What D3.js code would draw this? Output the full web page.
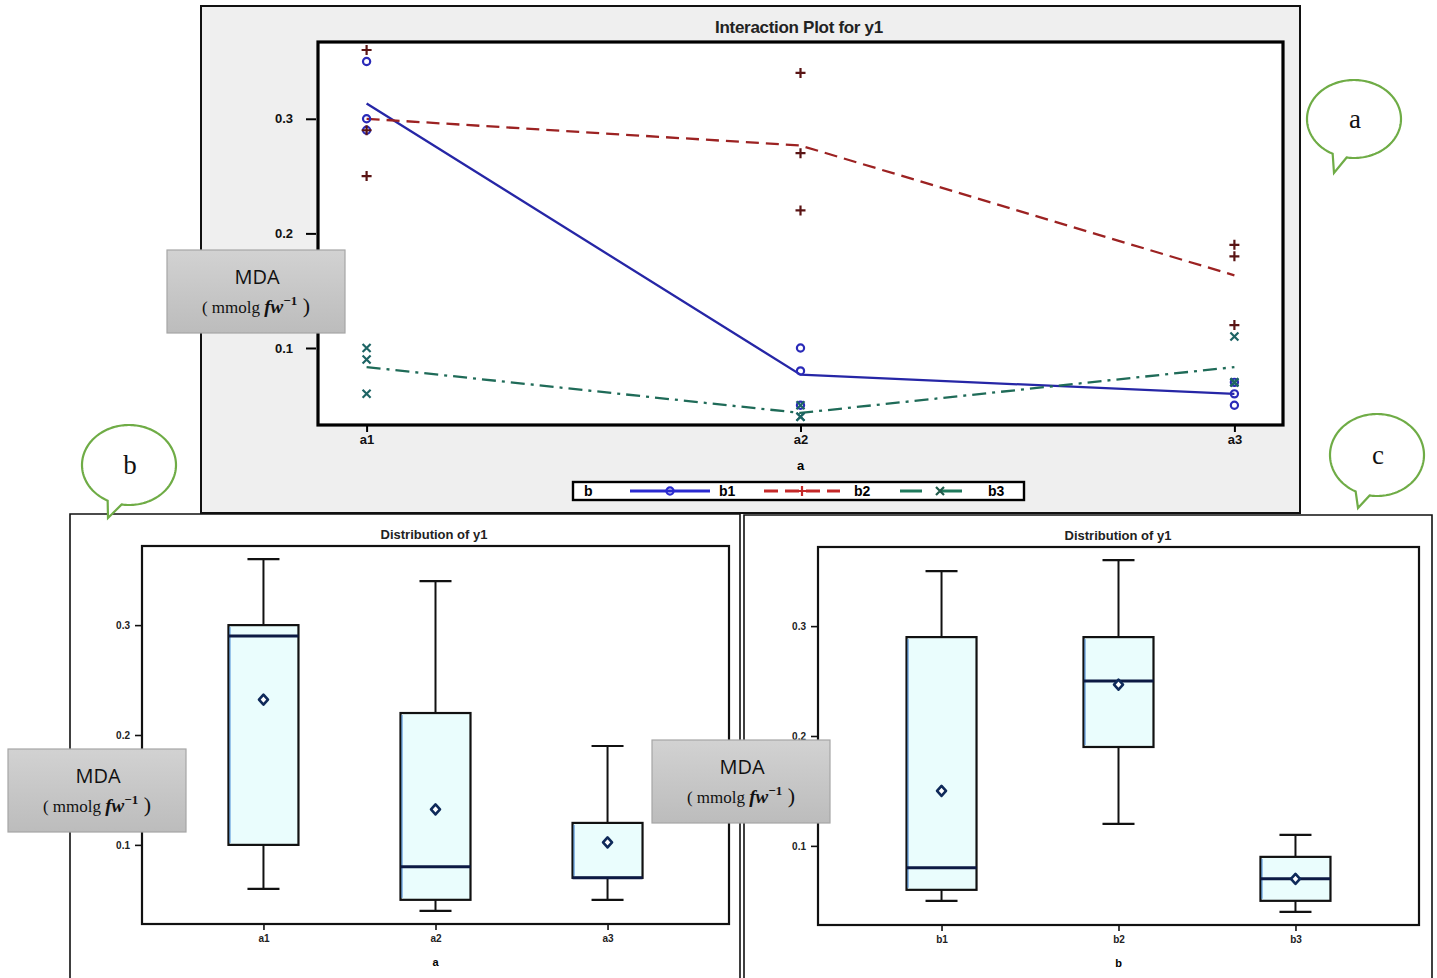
<!DOCTYPE html>
<html>
<head>
<meta charset="utf-8">
<script src="https://cdn.jsdelivr.net/npm/d3@7"></script>
<style>
  html, body { margin: 0; padding: 0; background: #ffffff; }
  svg { display: block; }
</style>
</head>
<body>
<svg id="chart" width="1437" height="978"></svg>
<script>
// ---------------- DATA ----------------
const aLevels = ["a1", "a2", "a3"];
const bLevels = ["b1", "b2", "b3"];
// y1 replicates for each b level, one inner array per a level (a1, a2, a3)
const y1_b1 = [[0.35, 0.30, 0.29], [0.10, 0.08, 0.05], [0.07, 0.06, 0.05]];
const y1_b2 = [[0.36, 0.29, 0.25], [0.34, 0.27, 0.22], [0.19, 0.18, 0.12]];
const y1_b3 = [[0.10, 0.09, 0.06], [0.05, 0.04, 0.04], [0.11, 0.07, 0.07]];
const yTickValues = [0.1, 0.2, 0.3];
const interactionTitle = "Interaction Plot for y1";
const distTitle = "Distribution of y1";
const calloutLabels = ["a", "b", "c"];

// ---------------- HELPERS ----------------
const svg = d3.select("#chart");
const FONT = "'Liberation Sans', Arial, sans-serif";
const seriesByB = { b1: y1_b1, b2: y1_b2, b3: y1_b3 };
const colors = { b1: "#2626a6", b2: "#9c2222", b3: "#1f6b58" };
const legendColors = { b1: "#2a2ad0", b2: "#c42828", b3: "#1f7a5c" };
const markerColors = { b1: "#2a2ab8", b2: "#5a1414", b3: "#1d6464" };
const dashes = { b1: null, b2: "13,7", b3: "14,6,3,6" };

// SAS definition-5 quantile
function sasQuantile(sorted, p) {
  const n = sorted.length, np = n * p, j = Math.floor(np), g = np - j;
  if (g > 0) return sorted[j];
  return (sorted[j - 1] + sorted[j]) / 2;
}
function boxStats(values) {
  const s = values.slice().sort(d3.ascending);
  const q1 = sasQuantile(s, 0.25), med = sasQuantile(s, 0.5), q3 = sasQuantile(s, 0.75);
  const iqr = q3 - q1;
  const lo = d3.min(s.filter(v => v >= q1 - 1.5 * iqr));
  const hi = d3.max(s.filter(v => v <= q3 + 1.5 * iqr));
  return { q1, med, q3, lo, hi, mean: d3.mean(s) };
}

function marker(g, type, x, y, color) {
  if (type === "b1") {
    g.append("circle").attr("cx", x).attr("cy", y).attr("r", 3.6)
      .attr("fill", "none").attr("stroke", color).attr("stroke-width", 2.2);
  } else if (type === "b2") {
    g.append("path").attr("d", `M${x - 5},${y}H${x + 5}M${x},${y - 5}V${y + 5}`)
      .attr("stroke", color).attr("stroke-width", 2.2);
  } else {
    g.append("path").attr("d", `M${x - 4},${y - 4}L${x + 4},${y + 4}M${x + 4},${y - 4}L${x - 4},${y + 4}`)
      .attr("stroke", color).attr("stroke-width", 2.2);
  }
}

// ---------------- TOP: INTERACTION PLOT ----------------
(function () {
  const frame = { x0: 201, y0: 6, x1: 1300, y1: 513 };
  const plot = { x0: 318, y0: 42, x1: 1283, y1: 425 };
  const g = svg.append("g");
  g.append("rect").attr("x", frame.x0).attr("y", frame.y0)
    .attr("width", frame.x1 - frame.x0).attr("height", frame.y1 - frame.y0)
    .attr("fill", "#efefef").attr("stroke", "#111").attr("stroke-width", 2);
  g.append("rect").attr("x", plot.x0).attr("y", plot.y0)
    .attr("width", plot.x1 - plot.x0).attr("height", plot.y1 - plot.y0).attr("fill", "#ffffff");

  const x = d3.scalePoint().domain(aLevels).range([plot.x0, plot.x1]).padding(0.112);
  const y = d3.scaleLinear().domain([0.0328, 0.367]).range([plot.y1, plot.y0]);

  bLevels.forEach(b => {
    const means = seriesByB[b].map((vals, i) => ({ a: aLevels[i], m: d3.mean(vals) }));
    g.append("path").datum(means)
      .attr("d", d3.line().x(d => x(d.a)).y(d => y(d.m)))
      .attr("fill", "none").attr("stroke", colors[b]).attr("stroke-width", 2.3)
      .attr("stroke-dasharray", dashes[b]);
  });
  bLevels.forEach(b => {
    seriesByB[b].forEach((vals, i) => {
      vals.forEach(v => marker(g, b, x(aLevels[i]), y(v), markerColors[b]));
    });
  });

  g.append("rect").attr("x", plot.x0).attr("y", plot.y0)
    .attr("width", plot.x1 - plot.x0).attr("height", plot.y1 - plot.y0)
    .attr("fill", "none").attr("stroke", "#000").attr("stroke-width", 3.2);

  const ya = g.append("g").attr("transform", `translate(${plot.x0 - 2},0)`)
    .call(d3.axisLeft(y).tickValues(yTickValues).tickFormat(d3.format(".1f")).tickSize(10).tickPadding(13));
  ya.select(".domain").remove();
  ya.selectAll("line").attr("stroke", "#000").attr("stroke-width", 2);
  ya.selectAll("text").attr("font-family", FONT).attr("font-weight", "bold").attr("font-size", 13).attr("fill", "#111");

  const xa = g.append("g").attr("transform", `translate(0,${plot.y1 + 1})`)
    .call(d3.axisBottom(x).tickSize(6).tickPadding(3));
  xa.select(".domain").remove();
  xa.selectAll("line").attr("stroke", "#000").attr("stroke-width", 2);
  xa.selectAll("text").attr("font-family", FONT).attr("font-weight", "bold").attr("font-size", 13).attr("fill", "#111");

  g.append("text").attr("x", (plot.x0 + plot.x1) / 2).attr("y", 470).attr("text-anchor", "middle")
    .attr("font-family", FONT).attr("font-weight", "bold").attr("font-size", 13).text("a");
  g.append("text").attr("x", 799).attr("y", 33).attr("text-anchor", "middle")
    .attr("font-family", FONT).attr("font-weight", "bold").attr("font-size", 17).attr("fill", "#222")
    .attr("letter-spacing", -0.3).text(interactionTitle);

  // legend
  const lg = g.append("g");
  lg.append("rect").attr("x", 573).attr("y", 482).attr("width", 451).attr("height", 18)
    .attr("fill", "#ffffff").attr("stroke", "#000").attr("stroke-width", 2.4);
  lg.append("text").attr("x", 584).attr("y", 496).attr("font-family", FONT).attr("font-weight", "bold")
    .attr("font-size", 14).text("b");
  const items = [
    { b: "b1", x0: 630, x1: 710, tx: 719 },
    { b: "b2", x0: 764, x1: 840, tx: 854 },
    { b: "b3", x0: 900, x1: 980, tx: 988 }
  ];
  items.forEach(it => {
    lg.append("line").attr("x1", it.x0).attr("x2", it.x1).attr("y1", 491).attr("y2", 491)
      .attr("stroke", legendColors[it.b]).attr("stroke-width", 3)
      .attr("stroke-dasharray", it.b === "b2" ? "14,7" : (it.b === "b3" ? "22,18" : null));
    marker(lg, it.b, (it.x0 + it.x1) / 2, 491, it.b === "b1" ? legendColors.b1 : (it.b === "b2" ? legendColors.b2 : "#1f5a4a"));
    lg.append("text").attr("x", it.tx).attr("y", 496).attr("font-family", FONT).attr("font-weight", "bold")
      .attr("font-size", 14).text(it.b);
  });
})();

// ---------------- BOTTOM: BOX PLOTS ----------------
function boxPanel(opts) {
  const { frame, plot, levels, groups, axisLabel, titleX } = opts;
  const g = svg.append("g");
  g.append("path").attr("d", `M${frame.x0},${frame.y1}V${frame.y0}H${frame.x1}V${frame.y1}`)
    .attr("fill", "#ffffff").attr("stroke", "#111").attr("stroke-width", 1.6);

  const x = d3.scalePoint().domain(levels).range([plot.x0, plot.x1]).padding(opts.pad);
  const y = d3.scaleLinear().domain([0.028, 0.372]).range([plot.y1, plot.y0]);

  const boxW = 70, capW = 32;
  levels.forEach((lev, i) => {
    const s = boxStats(groups[i]);
    const cx = x(lev);
    g.append("line").attr("x1", cx).attr("x2", cx).attr("y1", y(s.hi)).attr("y2", y(s.q3))
      .attr("stroke", "#111").attr("stroke-width", 2);
    g.append("line").attr("x1", cx).attr("x2", cx).attr("y1", y(s.q1)).attr("y2", y(s.lo))
      .attr("stroke", "#111").attr("stroke-width", 2);
    [s.hi, s.lo].forEach(v => g.append("line").attr("x1", cx - capW / 2).attr("x2", cx + capW / 2)
      .attr("y1", y(v)).attr("y2", y(v)).attr("stroke", "#111").attr("stroke-width", 2.2));
    g.append("rect").attr("x", cx - boxW / 2).attr("y", y(s.q3)).attr("width", boxW)
      .attr("height", y(s.q1) - y(s.q3)).attr("fill", "#eafdfd").attr("stroke", "#111").attr("stroke-width", 2.2);
    g.append("line").attr("x1", cx - boxW / 2 + 1.5).attr("x2", cx - boxW / 2 + 1.5)
      .attr("y1", y(s.q3) + 2).attr("y2", y(s.q1) - 2).attr("stroke", "#3a7fd0").attr("stroke-width", 1);
    g.append("line").attr("x1", cx - boxW / 2).attr("x2", cx + boxW / 2).attr("y1", y(s.med)).attr("y2", y(s.med))
      .attr("stroke", "#0d1a44").attr("stroke-width", 3);
    // mean marker (small diamond)
    const my = y(s.mean);
    g.append("path").attr("d", `M${cx},${my - 5}L${cx + 4.5},${my}L${cx},${my + 5}L${cx - 4.5},${my}Z`)
      .attr("fill", "#ffffff").attr("stroke", "#0f2a5a").attr("stroke-width", 2.6).attr("stroke-linejoin", "round");
  });

  g.append("rect").attr("x", plot.x0).attr("y", plot.y0).attr("width", plot.x1 - plot.x0)
    .attr("height", plot.y1 - plot.y0).attr("fill", "none").attr("stroke", "#111").attr("stroke-width", 2.2);

  const ya = g.append("g").attr("transform", `translate(${plot.x0 - 1},0)`)
    .call(d3.axisLeft(y).tickValues(yTickValues).tickFormat(d3.format(".1f")).tickSize(6).tickPadding(5));
  ya.select(".domain").remove();
  ya.selectAll("line").attr("stroke", "#111").attr("stroke-width", 1.6);
  ya.selectAll("text").attr("font-family", FONT).attr("font-weight", "bold").attr("font-size", 10).attr("fill", "#222");

  const xa = g.append("g").attr("transform", `translate(0,${plot.y1 + 1})`)
    .call(d3.axisBottom(x).tickSize(5).tickPadding(5));
  xa.select(".domain").remove();
  xa.selectAll("line").attr("stroke", "#111").attr("stroke-width", 1.6);
  xa.selectAll("text").attr("font-family", FONT).attr("font-weight", "bold").attr("font-size", 10).attr("fill", "#222");

  g.append("text").attr("x", (plot.x0 + plot.x1) / 2).attr("y", plot.y1 + 42).attr("text-anchor", "middle")
    .attr("font-family", FONT).attr("font-weight", "bold").attr("font-size", 11).text(axisLabel);
  g.append("text").attr("x", titleX).attr("y", plot.y0 - 7).attr("text-anchor", "middle")
    .attr("font-family", FONT).attr("font-weight", "bold").attr("font-size", 13).attr("fill", "#222").text(distTitle);
}

const groupsByA = aLevels.map((a, i) => [...y1_b1[i], ...y1_b2[i], ...y1_b3[i]]);
const groupsByB = bLevels.map(b => seriesByB[b].flat());

boxPanel({
  frame: { x0: 70, y0: 514, x1: 740, y1: 990 },
  plot: { x0: 142, y0: 546, x1: 729, y1: 924 },
  levels: aLevels, groups: groupsByA, axisLabel: "a", pad: 0.706, titleX: 434
});
boxPanel({
  frame: { x0: 744, y0: 515, x1: 1432, y1: 990 },
  plot: { x0: 818, y0: 547, x1: 1419, y1: 925 },
  levels: bLevels, groups: groupsByB, axisLabel: "b", pad: 0.698, titleX: 1118
});

// ---------------- MDA LABEL BOXES ----------------
const defs = svg.append("defs");
const grad = defs.append("linearGradient").attr("id", "grayGrad").attr("x1", 0).attr("y1", 0).attr("x2", 0).attr("y2", 1);
grad.append("stop").attr("offset", "0%").attr("stop-color", "#d2d2d2");
grad.append("stop").attr("offset", "100%").attr("stop-color", "#bcbcbc");

function mdaBox(x0, y0) {
  const w = 178, h = 83;
  const g = svg.append("g");
  g.append("rect").attr("x", x0).attr("y", y0).attr("width", w).attr("height", h)
    .attr("fill", "url(#grayGrad)").attr("stroke", "#a6a6a6").attr("stroke-width", 1.2);
  g.append("text").attr("x", x0 + w / 2 + 1).attr("y", y0 + 34).attr("text-anchor", "middle")
    .attr("font-family", "'Open Sans', 'Noto Sans', sans-serif").attr("font-size", 20).attr("fill", "#111").text("MDA");
  const t = g.append("text").attr("x", x0 + w / 2).attr("y", y0 + 63).attr("text-anchor", "middle")
    .attr("font-family", "'Liberation Serif', 'DejaVu Serif', serif").attr("fill", "#111");
  t.append("tspan").attr("font-size", 17).text("( mmolg ");
  t.append("tspan").attr("font-size", 19).attr("font-style", "italic").attr("font-weight", "bold").text("fw");
  t.append("tspan").attr("font-size", 13).attr("font-weight", "bold").attr("dy", -8).text("−1");
  t.append("tspan").attr("font-size", 22).attr("dy", 8).text(" )");
}
mdaBox(167, 250);
mdaBox(8, 749);
mdaBox(652, 740);

// ---------------- CALLOUT BUBBLES ----------------
function bubble(cx, cy, rx, ry, tipX, tipY, label) {
  const g = svg.append("g");
  const start = 117, end = 99 + 360; // degrees, going the long way round
  const pts = d3.range(start, end + 0.5, 2).map(deg => {
    const r = deg * Math.PI / 180;
    return [cx + rx * Math.cos(r), cy + ry * Math.sin(r)];
  });
  pts.push([tipX, tipY]);
  g.append("path").attr("d", d3.line()(pts) + "Z").attr("fill", "#ffffff").attr("stroke", "#6fac46")
    .attr("stroke-width", 2.2).attr("stroke-linejoin", "miter");
  g.append("text").attr("x", cx + 1).attr("y", cy + 9).attr("text-anchor", "middle")
    .attr("font-family", "'Liberation Serif', 'DejaVu Serif', serif").attr("font-size", 27).attr("fill", "#111").text(label);
}
bubble(1354, 119, 47, 39, 1334, 173, calloutLabels[0]);
bubble(129, 465, 47, 40, 108, 518, calloutLabels[1]);
bubble(1377, 455, 47, 41, 1358, 508, calloutLabels[2]);
</script>
</body>
</html>
